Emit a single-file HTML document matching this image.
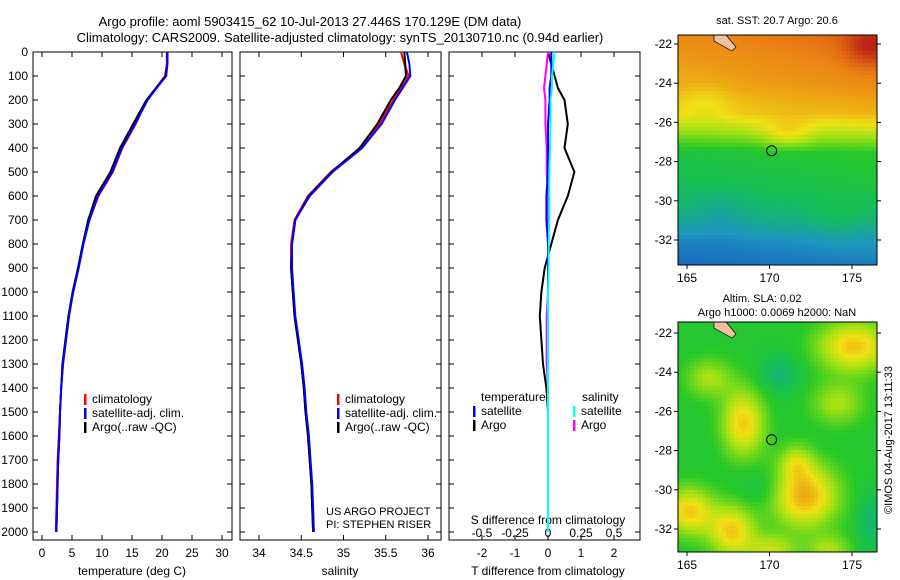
<!DOCTYPE html>
<html><head><meta charset="utf-8"><style>
html,body{margin:0;padding:0;background:#fff;}
svg{display:block;font-family:"Liberation Sans",sans-serif;}
</style></head><body>
<svg id="fig" width="900" height="580" viewBox="0 0 900 580">
<text x="310" y="26" font-size="13" text-anchor="middle">Argo profile: aoml 5903415_62 10-Jul-2013 27.446S 170.129E (DM data)</text>
<text x="340" y="42" font-size="13" text-anchor="middle">Climatology: CARS2009. Satellite-adjusted climatology: synTS_20130710.nc (0.94d earlier)</text>
<g id="p1"></g>
<g id="p2"></g>
<g id="p3"></g>
<g id="m1"></g>
<g id="m2"></g>
<text x="777" y="24" font-size="11" text-anchor="middle">sat. SST: 20.7 Argo: 20.6</text>
<text x="762" y="302" font-size="11" text-anchor="middle">Altim. SLA: 0.02</text>
<text x="777" y="316" font-size="11" text-anchor="middle">Argo h1000: 0.0069 h2000: NaN</text>
<text transform="translate(892,440) rotate(-90)" font-size="11" text-anchor="middle">©IMOS 04-Aug-2017 13:11:33</text>
<text x="326" y="515" font-size="11">US ARGO PROJECT</text>
<text x="326" y="528" font-size="11">PI: STEPHEN RISER</text>
</svg>
<script>
const NS="http://www.w3.org/2000/svg";
// ---- data ----
const depths=[0,50,100,150,200,300,400,500,600,700,800,900,1000,1100,1200,1300,1400,1500,1600,1700,1800,1900,2000];
const tempArgo=[20.9,20.9,20.6,19.0,17.4,15.2,13.0,11.4,9.0,7.7,6.8,6.0,5.1,4.4,3.9,3.4,3.2,3.0,2.9,2.7,2.6,2.5,2.4];
const tempClim=[20.8,20.8,20.5,19.0,17.5,15.6,13.4,11.8,9.4,7.9,6.9,6.1,5.2,4.5,4.0,3.5,3.2,3.0,2.8,2.6,2.5,2.4,2.3];
const tempSat=[20.9,20.9,20.7,19.1,17.6,15.5,13.3,11.7,9.3,7.9,6.9,6.1,5.2,4.5,4.0,3.5,3.2,3.0,2.9,2.7,2.6,2.5,2.4];
const salArgo=[35.72,35.73,35.74,35.66,35.56,35.40,35.19,34.86,34.59,34.43,34.39,34.38,34.40,34.42,34.46,34.50,34.53,34.55,34.58,34.60,34.62,34.63,34.64];
const salClim=[35.68,35.72,35.77,35.68,35.59,35.42,35.20,34.85,34.58,34.42,34.38,34.38,34.40,34.42,34.46,34.50,34.53,34.55,34.58,34.60,34.62,34.63,34.64];
const salSat=[35.75,35.78,35.79,35.70,35.61,35.45,35.22,34.87,34.60,34.43,34.39,34.39,34.41,34.43,34.47,34.51,34.54,34.56,34.59,34.61,34.63,34.64,34.65];
const dTArgo=[0.0,0.1,0.2,0.3,0.5,0.6,0.5,0.8,0.6,0.3,0.1,-0.1,-0.2,-0.25,-0.2,-0.15,-0.05,0.0,0.0,0.0,0.0,0.0,0.0];
const dTSat=[0.1,0.1,0.1,0.05,0.05,0.0,0.0,0.0,-0.05,-0.05,0.0,0.0,0.0,0.0,0.0,0.0,0.0,0.0,0.0,0.0,0.0,0.0,0.0];
const dSArgo=[0.0,-0.01,-0.02,-0.03,-0.02,-0.02,-0.01,-0.01,0.0,0.0,0.0,0.0,0.0,-0.01,-0.01,-0.01,0.0,0.0,0.0,0.0,0.0,0.0,0.0];
const dSSat=[0.05,0.04,0.03,0.03,0.02,0.02,0.015,0.01,0.01,0.01,0.005,0.005,0.0,0.0,0.0,0.0,0.0,0.0,0.0,0.0,0.0,0.0,0.0];
const depthTicks=[0,100,200,300,400,500,600,700,800,900,1000,1100,1200,1300,1400,1500,1600,1700,1800,1900,2000];
const tempTicks=[0,5,10,15,20,25,30];
const salTicks=[34,34.5,35,35.5,36];
const dTTicks=[-2,-1,0,1,2];
const dSTicks=[-0.5,-0.25,0,0.25,0.5];
const latTicks=[-22,-24,-26,-28,-30,-32];
const lonTicks=[165,170,175];

function el(tag,attrs,parent,text){const e=document.createElementNS(NS,tag);for(const k in attrs)e.setAttribute(k,attrs[k]);if(text!==undefined)e.textContent=text;parent.appendChild(e);return e;}
const yD=d=>52+d*0.24;
function frame(g,x0,x1,name){
  const r=el('rect',{x:x0,y:52,width:x1-x0,height:488,fill:'none',stroke:'#000','stroke-width':1},g);
  
  
  depthTicks.forEach(d=>{el('line',{x1:x0,x2:x0+5,y1:yD(d),y2:yD(d),stroke:'#000'},g);el('line',{x1:x1,x2:x1-5,y1:yD(d),y2:yD(d),stroke:'#000'},g);});
}
function xticks(g,vals,fx,y,labelY){
  vals.forEach(v=>{const x=fx(v);el('line',{x1:x,x2:x,y1:540,y2:535,stroke:'#000'},g);el('line',{x1:x,x2:x,y1:52,y2:57,stroke:'#000'},g);
    const t=el('text',{x:x,y:labelY,'font-size':12,'text-anchor':'middle'},g,String(v));
    
    });
}
function line(g,vals,fx,color,name,w){
  const pts=vals.map((v,i)=>fx(v).toFixed(1)+','+yD(depths[i]).toFixed(1)).join(' ');
  const p=el('polyline',{points:pts,fill:'none',stroke:color,'stroke-width':w||2},g);
  
  
}
function legend(g,x,y,items){
  items.forEach((it,i)=>{el('rect',{x:x,y:y+i*14-9,width:2.5,height:11,fill:it[0]},g);
    const t=el('text',{x:x+8,y:y+i*14,'font-size':12},g,it[1]);
    
    });
}
// panel 1
const p1=document.getElementById('p1');
const xT=v=>42+v*6;
frame(p1,33,232,'temperature');
depthTicks.forEach(d=>{const t=el('text',{x:28,y:yD(d)+4,'font-size':12,'text-anchor':'end'},p1,String(d));
  
  });
xticks(p1,tempTicks,xT,540,557);
el('text',{x:132,y:575,'font-size':12,'text-anchor':'middle'},p1,'temperature (deg C)');
line(p1,tempClim,xT,'#f00','temp-climatology-line');
line(p1,tempArgo,xT,'#000','temp-argo-line');
line(p1,tempSat,xT,'#00f','temp-satellite-line');
legend(p1,84,403,[['#f00','climatology'],['#00f','satellite-adj. clim.'],['#000','Argo(..raw -QC)']]);
// panel 2
const p2=document.getElementById('p2');
const xS=v=>259+(v-34)*84.5;
frame(p2,240,441,'salinity');
xticks(p2,salTicks,xS,540,557);
el('text',{x:340,y:575,'font-size':12,'text-anchor':'middle'},p2,'salinity');
line(p2,salClim,xS,'#f00','sal-climatology-line');
line(p2,salArgo,xS,'#000','sal-argo-line');
line(p2,salSat,xS,'#00f','sal-satellite-line');
legend(p2,337,403,[['#f00','climatology'],['#00f','satellite-adj. clim.'],['#000','Argo(..raw -QC)']]);
// panel 3
const p3=document.getElementById('p3');
const xDT=v=>548+v*33, xDS=v=>548+v*132;
frame(p3,449,640,'difference');
xticks(p3,dTTicks,xDT,540,557);
dSTicks.forEach(v=>{const t=el('text',{x:xDS(v),y:537,'font-size':12,'text-anchor':'middle'},p3,v===0?'0':String(v));
  
  });
el('text',{x:548,y:524,'font-size':12,'text-anchor':'middle'},p3,'S difference from climatology');
el('text',{x:548,y:575,'font-size':12,'text-anchor':'middle'},p3,'T difference from climatology');
line(p3,dTArgo,xDT,'#000','t-diff-argo-line');
line(p3,dSArgo,xDS,'#f0f','s-diff-argo-line');
line(p3,dTSat,xDT,'#00f','t-diff-satellite-line');
line(p3,dSSat,xDS,'#0ff','s-diff-satellite-line');
el('text',{x:481,y:401,'font-size':12},p3,'temperature');
el('text',{x:582,y:401,'font-size':12},p3,'salinity');
legend(p3,473,415,[['#00f','satellite'],['#000','Argo']]);
legend(p3,573,415,[['#0ff','satellite'],['#f0f','Argo']]);
// maps
const stops=[[0,[16,50,190]],[0.22,[30,150,190]],[0.4,[20,190,90]],[0.5,[40,200,40]],[0.62,[160,225,20]],[0.72,[240,225,20]],[0.86,[235,130,20]],[1,[180,20,20]]];
function cmap(v){v=Math.max(0,Math.min(1,v));for(let i=1;i<stops.length;i++){if(v<=stops[i][0]){const a=stops[i-1],b=stops[i],t=(v-a[0])/(b[0]-a[0]);return 'rgb('+a[1].map((c,k)=>Math.round(c+(b[1][k]-c)*t)).join(',')+')';}}return 'rgb(180,20,20)';}
function gauss(lon,lat,c){return c[2]*Math.exp(-(((lon-c[0])/c[3])**2+((lat-c[1])/c[4])**2));}
function drawMap(g,x0,y0,lat22y,name,field){
  const w=199,h=230,lonX=l=>687+(l-165)*16.5,latY=l=>lat22y+(-22-l)*19.6;
  const cs=4;
  for(let px=0;px<w;px+=cs)for(let py=0;py<h;py+=cs){
    const lon=165+(x0+px-687)/16.5, lat=-22-(y0+py-lat22y)/19.6;
    el('rect',{x:x0+px,y:y0+py,width:Math.min(cs,w-px),height:Math.min(cs,h-py),fill:cmap(field(lon,lat))},g);}
  el('path',{d:`M${x0+36} ${y0} l12 0 l10 12 l-4 4 l-18 -10 z`,fill:'#f0c0a0',stroke:'#000','stroke-width':0.7},g);
  const r=el('rect',{x:x0,y:y0,width:w,height:h,fill:'none',stroke:'#000'},g);
  
  
  const c=el('circle',{cx:lonX(170.129),cy:latY(-27.446),r:5,fill:'none',stroke:'#000','stroke-width':1},g);
  
  
  latTicks.forEach(l=>{const y=latY(l);el('line',{x1:x0,x2:x0-4,y1:y,y2:y,stroke:'#000'},g);el('line',{x1:x0+w,x2:x0+w+4,y1:y,y2:y,stroke:'#000'},g);
    const t=el('text',{x:x0-6,y:y+4,'font-size':12,'text-anchor':'end'},g,String(l));
    
    });
  lonTicks.forEach(l=>{const x=lonX(l);el('line',{x1:x,x2:x,y1:y0+h,y2:y0+h+4,stroke:'#000'},g);
    const t=el('text',{x:x,y:y0+h+17,'font-size':12,'text-anchor':'middle'},g,String(l));
    
    });
}
const sstProf=[[-21,0.88],[-22,0.86],[-24,0.82],[-25.5,0.76],[-26.5,0.62],[-27.5,0.47],[-29,0.43],[-30.5,0.36],[-32,0.2],[-34,0.1]];
function interpLat(lat){for(let i=1;i<sstProf.length;i++){if(lat>=sstProf[i][0]){const a=sstProf[i-1],b=sstProf[i],t=(lat-a[0])/(b[0]-a[0]);return a[1]+(b[1]-a[1])*t;}}return 0.1;}
const sstBlobs=[[176,-22,0.1,1.5,1.0],[166,-25,-0.05,1.5,1.0],[171,-26.5,0.1,1.5,0.7],[167,-30.5,-0.06,1.5,1.0],[174,-31,0.05,1.5,1.0]];
drawMap(document.getElementById('m1'),678,35,44,'sst-map',(lon,lat)=>{
  let v=interpLat(lat)+(lon-170)*0.004;sstBlobs.forEach(b=>v+=gauss(lon,lat,b));return v;});
const blobs=[[168.3,-26.5,0.27,1.3,1.7],[172,-30.2,0.32,2.0,1.6],[165,-31,0.27,1.5,1.2],[167.6,-32,0.27,1.4,1.3],[175,-22.6,0.28,2.2,1.3],[166.2,-24.2,0.15,1.4,1.0],[171.5,-28.5,0.15,1.0,0.9],[174,-25.5,0.15,1.6,1.1],[170.5,-24,-0.12,1.2,1.0],[176,-31.5,-0.12,0.8,1.5],[169.5,-29.8,-0.06,1.5,1.0],[170,-33,0.18,1.5,0.8],[173.5,-33,0.15,1.3,0.8]];
drawMap(document.getElementById('m2'),678,322,333,'sla-map',(lon,lat)=>{
  let v=0.48;blobs.forEach(b=>v+=gauss(lon,lat,b));return v;});
</script>
</body></html>
